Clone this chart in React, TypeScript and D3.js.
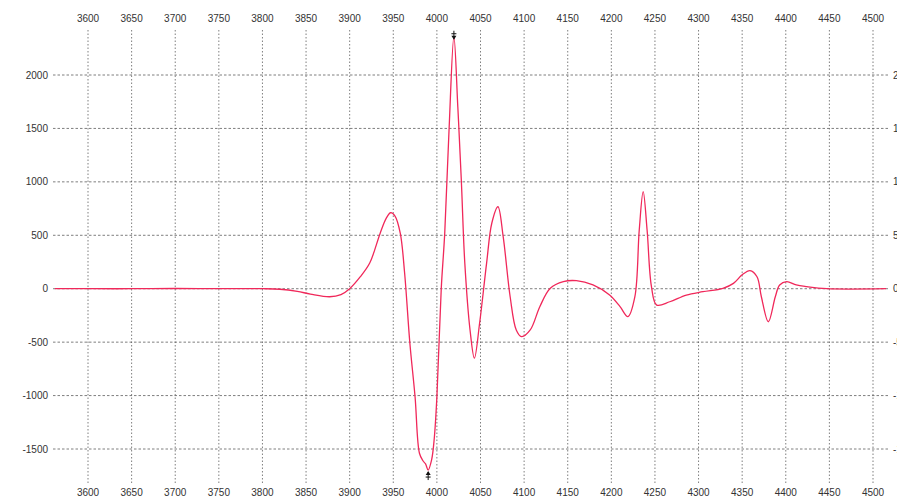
import React from "react";
import * as d3 from "d3";

const xValues = [
  3562, 3600, 3650, 3700, 3750, 3800, 3820, 3840, 3855, 3877, 3890, 3900, 3912, 3923, 3935, 3942,
  3947, 3952, 3958, 3963, 3969, 3975, 3980, 3984, 3987, 3990, 3994, 3997, 4000, 4005, 4009, 4014,
  4019.5, 4024, 4028, 4032, 4038, 4043, 4049, 4057, 4063, 4070, 4076, 4084, 4091, 4097, 4107, 4118,
  4130, 4145, 4160, 4179, 4198, 4210, 4219, 4227, 4232, 4236.5, 4241, 4246, 4252, 4267, 4286, 4305,
  4328, 4340, 4350, 4359, 4367, 4372, 4380, 4388, 4393, 4401, 4412, 4424, 4447, 4515,
];
const yValues = [
  0, 0, 0, 2, 0, 0, -5, -25, -50, -75, -55, 0, 110, 240, 520, 660,
  711, 680, 520, 147, -508, -1013, -1540, -1610, -1640, -1697, -1600, -1400, -1013, 0, 520, 1500,
  2358, 1700, 1017, 240, -386, -650, -321, 240, 615, 767, 487, -75, -386, -449, -386, -168,
  4, 66, 75, 35, -59, -168, -262, -75, 549, 908, 549, 19, -153, -122, -59, -28,
  4, 50, 130, 170, 112, -75, -309, -75, 35, 66, 35, 19, 0, 0,
];
const xTicks = [3600, 3650, 3700, 3750, 3800, 3850, 3900, 3950, 4000, 4050, 4100, 4150, 4200, 4250, 4300, 4350, 4400, 4450, 4500];
const yTicks = [2000, 1500, 1000, 500, 0, -500, -1000, -1500];

const W = 897;
const H = 499;

export default function App() {
  const x = d3.scaleLinear().domain([3600, 4500]).range([88, 873]);
  const y = d3.scaleLinear().domain([-1500, 2000]).range([449, 75]);
  const data = xValues.map((v, i) => [v, yValues[i]] as [number, number]);
  const line = d3
    .line<[number, number]>()
    .x((d) => x(d[0]))
    .y((d) => y(d[1]))
    .curve(d3.curveCatmullRom.alpha(0.5));

  let iMax = 0;
  let iMin = 0;
  yValues.forEach((v, i) => {
    if (v > yValues[iMax]) iMax = i;
    if (v < yValues[iMin]) iMin = i;
  });
  const mx = x(xValues[iMax]);
  const my = y(yValues[iMax]);
  const nx = x(xValues[iMin]);
  const ny = y(yValues[iMin]);

  const gridColor = "#555";
  const font = "Arial, 'Liberation Sans', sans-serif";
  const textColor = "#333";

  return (
    <svg
      width={W}
      height={H}
      style={{ position: "absolute", left: 0, top: 0, background: "#fff" }}
      fontFamily={font}
    >
      <rect x={0} y={0} width={W} height={H} fill="#fff" />
      {xTicks.map((t) => (
        <line
          key={"vx" + t}
          x1={x(t)}
          x2={x(t)}
          y1={30}
          y2={484}
          stroke={gridColor}
          strokeWidth={1}
          strokeDasharray="1.5,2"
          opacity={0.75}
        />
      ))}
      {yTicks.map((t) => (
        <line
          key={"hy" + t}
          x1={53}
          x2={888}
          y1={y(t)}
          y2={y(t)}
          stroke={gridColor}
          strokeWidth={1}
          strokeDasharray="2.5,2"
          opacity={0.75}
        />
      ))}
      {xTicks.map((t) => (
        <text key={"tt" + t} x={x(t)} y={22} fontSize={10} fill={textColor} textAnchor="middle">
          {t}
        </text>
      ))}
      {xTicks.map((t) => (
        <text key={"tb" + t} x={x(t)} y={496} fontSize={10} fill={textColor} textAnchor="middle">
          {t}
        </text>
      ))}
      {yTicks.map((t) => (
        <text key={"yl" + t} x={48} y={y(t) + 3.5} fontSize={10} fill={textColor} textAnchor="end">
          {t}
        </text>
      ))}
      {yTicks.map((t) => (
        <text key={"yr" + t} x={893} y={y(t) + 3.5} fontSize={10} fill={textColor} textAnchor="start">
          {t}
        </text>
      ))}
      <path d={line(data) || ""} fill="none" stroke="#f0285a" strokeWidth={1.3} />
      <g fill="#111" stroke="#111" strokeWidth={1}>
        <line x1={mx} x2={mx} y1={my - 6} y2={my + 2} />
        <line x1={mx - 2.5} x2={mx + 2.5} y1={my - 3} y2={my - 3} />
        <path d={`M${mx - 2.5},${my - 1} L${mx + 2.5},${my - 1} L${mx},${my + 3} Z`} stroke="none" />
        <line x1={nx} x2={nx} y1={ny + 2} y2={ny + 10} />
        <line x1={nx - 2.5} x2={nx + 2.5} y1={ny + 7} y2={ny + 7} />
        <path d={`M${nx - 2.5},${ny + 5} L${nx + 2.5},${ny + 5} L${nx},${ny + 1} Z`} stroke="none" />
      </g>
    </svg>
  );
}
